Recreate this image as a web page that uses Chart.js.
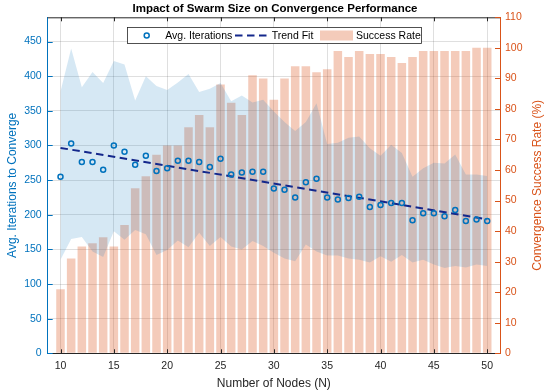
<!DOCTYPE html>
<html>
<head>
<meta charset="utf-8">
<script src="https://cdn.jsdelivr.net/npm/chart.js@4.4.1/dist/chart.umd.min.js"></script>
<style>
html,body{margin:0;padding:0;background:#fff;}
#wrap{width:550px;height:392px;position:relative;}
canvas{display:block;}
</style>
</head>
<body>
<div id="wrap"><canvas id="c" width="550" height="392"></canvas></div>
<script>
// ---------------- data ----------------
const nodes = [10,11,12,13,14,15,16,17,18,19,20,21,22,23,24,25,26,27,28,29,30,
               31,32,33,34,35,36,37,38,39,40,41,42,43,44,45,46,47,48,49,50];
const avgIterations = [255,303,276,276,265,300,291,272,285,263,267,278,278,276,269,281,258,261,262,262,238,
                       236,225,247,252,225,222,224,226,211,214,217,217,192,202,202,198,207,191,193,191];
const bandUpper = [378,440,384,406,390,422,417,365,400,386,380,391,403,377,382,390,364,372,362,366,349,
                   334,321,334,361,302,304,311,313,296,285,301,289,255,267,275,274,287,258,258,256];
const bandLower = [135,165,168,147,139,176,164,178,172,142,149,163,153,174,155,168,154,150,162,155,145,
                   137,133,157,147,141,141,137,135,131,140,132,142,131,135,128,123,126,124,128,126];
const successRate = [21,31,35,36,38,35,42,54,58,65,68,68,74,78,74,88,82,78,91,90,83,
                     90,94,94,92,93,99,97,99,98,98,97,95,97,99,99,99,99,99,100,100];
const trendX = [10, 50];
const trendY = [296.5, 193.5];
const xTicks = [10,15,20,25,30,35,40,45,50];
const leftTicks = [0,50,100,150,200,250,300,350,400,450];
const rightTicks = [0,10,20,30,40,50,60,70,80,90,100,110];

// ---------------- styling ----------------
const FONT = "'Liberation Sans', Arial, Helvetica, sans-serif";
const BLUE = '#0072BD';
const ORANGE = '#D95319';
const DARK = '#262626';
const NAVY = '#14288c';
const BAR_FILL = 'rgba(217,83,25,0.30)';
const BAND_FILL = 'rgba(0,114,189,0.16)';
const GRID = 'rgba(38,38,38,0.15)';

const pts = (xs, ys) => xs.map((x, i) => ({x: x, y: ys[i]}));

const decorPlugin = {
  id: 'decor',
  afterDraw(chart) {
    const ctx = chart.ctx;
    const a = chart.chartArea;
    const sx = chart.scales.x, sy = chart.scales.y, sy1 = chart.scales.y1;
    ctx.save();
    // top box line
    ctx.strokeStyle = DARK; ctx.lineWidth = 1;
    ctx.beginPath(); ctx.moveTo(a.left, a.top + 0.5); ctx.lineTo(a.right, a.top + 0.5); ctx.stroke();
    // inward tick marks x (bottom & top)
    xTicks.forEach(v => {
      const px = Math.round(sx.getPixelForValue(v)) + 0.5;
      ctx.beginPath(); ctx.moveTo(px, a.bottom); ctx.lineTo(px, a.bottom - 4); ctx.stroke();
      ctx.beginPath(); ctx.moveTo(px, a.top); ctx.lineTo(px, a.top + 4); ctx.stroke();
    });
    // left ticks
    ctx.strokeStyle = BLUE;
    leftTicks.forEach(v => {
      const py = Math.round(sy.getPixelForValue(v)) + 0.5;
      ctx.beginPath(); ctx.moveTo(a.left, py); ctx.lineTo(a.left + 5, py); ctx.stroke();
    });
    // right ticks
    ctx.strokeStyle = ORANGE;
    rightTicks.forEach(v => {
      const py = Math.round(sy1.getPixelForValue(v)) + 0.5;
      ctx.beginPath(); ctx.moveTo(a.right, py); ctx.lineTo(a.right - 5, py); ctx.stroke();
    });
    // right axis title (reads bottom to top)
    ctx.fillStyle = ORANGE;
    ctx.font = '12px ' + FONT;
    ctx.textAlign = 'center'; ctx.textBaseline = 'middle';
    ctx.translate(538, (a.top + a.bottom) / 2);
    ctx.rotate(-Math.PI / 2);
    ctx.fillText('Convergence Success Rate (%)', 0, 0);
    ctx.restore();

    // legend
    ctx.save();
    const bx = 127.5, by = 27.5, bw = 294, bh = 16;
    const cy = by + bh / 2;
    ctx.fillStyle = '#fff';
    ctx.fillRect(bx, by, bw, bh);
    ctx.strokeStyle = DARK; ctx.lineWidth = 0.8;
    ctx.strokeRect(bx, by, bw, bh);
    // marker
    ctx.strokeStyle = BLUE; ctx.lineWidth = 1.5;
    ctx.beginPath(); ctx.arc(146.7, cy, 2.5, 0, Math.PI * 2); ctx.stroke();
    // dashed line
    ctx.strokeStyle = NAVY; ctx.lineWidth = 2; ctx.setLineDash([7.5, 4.5]);
    ctx.beginPath(); ctx.moveTo(235, cy); ctx.lineTo(270, cy); ctx.stroke();
    ctx.setLineDash([]);
    // patch
    ctx.fillStyle = BAR_FILL;
    ctx.fillRect(320, cy - 5, 33, 10);
    // labels
    ctx.fillStyle = '#000';
    ctx.font = '10.5px ' + FONT;
    ctx.textAlign = 'left'; ctx.textBaseline = 'middle';
    ctx.fillText('Avg. Iterations', 165.3, cy + 0.5);
    ctx.fillText('Trend Fit', 271.7, cy + 0.5);
    ctx.fillText('Success Rate', 356, cy + 0.5);
    ctx.restore();
  }
};

const tickFont = {family: FONT, size: 10.5};

new Chart(document.getElementById('c'), {
  type: 'bar',
  data: {
    datasets: [
      {
        type: 'line', label: 'Avg. Iterations', data: pts(nodes, avgIterations),
        xAxisID: 'x', yAxisID: 'y', showLine: false,
        pointStyle: 'circle', pointRadius: 2.5, pointBorderWidth: 1.5,
        pointBorderColor: BLUE, pointBackgroundColor: 'rgba(0,0,0,0)',
        borderColor: BLUE, order: 0
      },
      {
        type: 'line', label: 'Trend Fit', data: pts(trendX, trendY),
        xAxisID: 'x', yAxisID: 'y', borderColor: NAVY, borderWidth: 2,
        borderDash: [7.5, 4.5], pointRadius: 0, fill: false, order: 1
      },
      {
        type: 'line', label: 'upper', data: pts(nodes, bandUpper),
        xAxisID: 'x', yAxisID: 'y', borderWidth: 0, borderColor: 'rgba(0,0,0,0)',
        pointRadius: 0, fill: '+1', backgroundColor: BAND_FILL, tension: 0, order: 2
      },
      {
        type: 'line', label: 'lower', data: pts(nodes, bandLower),
        xAxisID: 'x', yAxisID: 'y', borderWidth: 0, borderColor: 'rgba(0,0,0,0)',
        pointRadius: 0, fill: false, tension: 0, order: 2
      },
      {
        type: 'bar', label: 'Success Rate', data: pts(nodes, successRate),
        xAxisID: 'x', yAxisID: 'y1', backgroundColor: BAR_FILL, borderWidth: 0,
        barPercentage: 0.8, categoryPercentage: 1.0, order: 5
      }
    ]
  },
  options: {
    responsive: false,
    animation: false,
    devicePixelRatio: 1,
    layout: {padding: 0},
    plugins: {
      legend: {display: false},
      tooltip: {enabled: false},
      title: {
        display: true,
        text: 'Impact of Swarm Size on Convergence Performance',
        color: '#000',
        font: {family: FONT, size: 11.5, weight: 'bold'},
        padding: {top: 2.1, bottom: 1.4}
      }
    },
    scales: {
      x: {
        type: 'linear', position: 'bottom', min: 8.8, max: 51.2, offset: false, z: 1,
        afterBuildTicks: s => { s.ticks = xTicks.map(v => ({value: v})); },
        afterFit: s => { s.height = 38.7; },
        grid: {color: GRID, drawTicks: false, offset: false},
        border: {color: DARK, width: 1},
        ticks: {color: DARK, font: tickFont, padding: 7, maxRotation: 0, autoSkip: false},
        title: {display: true, text: 'Number of Nodes (N)', color: DARK,
                font: {family: FONT, size: 12}, padding: {top: 0, bottom: 1}}
      },
      y: {
        type: 'linear', position: 'left', min: 0, max: 485, z: 1,
        afterBuildTicks: s => { s.ticks = leftTicks.map(v => ({value: v})); },
        afterFit: s => { s.width = 47.7; },
        grid: {color: GRID, drawTicks: false},
        border: {color: BLUE, width: 1},
        ticks: {color: BLUE, font: tickFont, padding: 6},
        title: {display: true, text: 'Avg. Iterations to Converge', color: BLUE,
                font: {family: FONT, size: 12}, padding: {top: 5.8, bottom: 0}}
      },
      y1: {
        type: 'linear', position: 'right', min: 0, max: 110, z: 1,
        afterBuildTicks: s => { s.ticks = rightTicks.map(v => ({value: v})); },
        afterFit: s => { s.width = 50; },
        grid: {drawOnChartArea: false, drawTicks: false},
        border: {color: ORANGE, width: 1},
        ticks: {color: ORANGE, font: tickFont, padding: 5}
      }
    }
  },
  plugins: [decorPlugin]
});
</script>
</body>
</html>
